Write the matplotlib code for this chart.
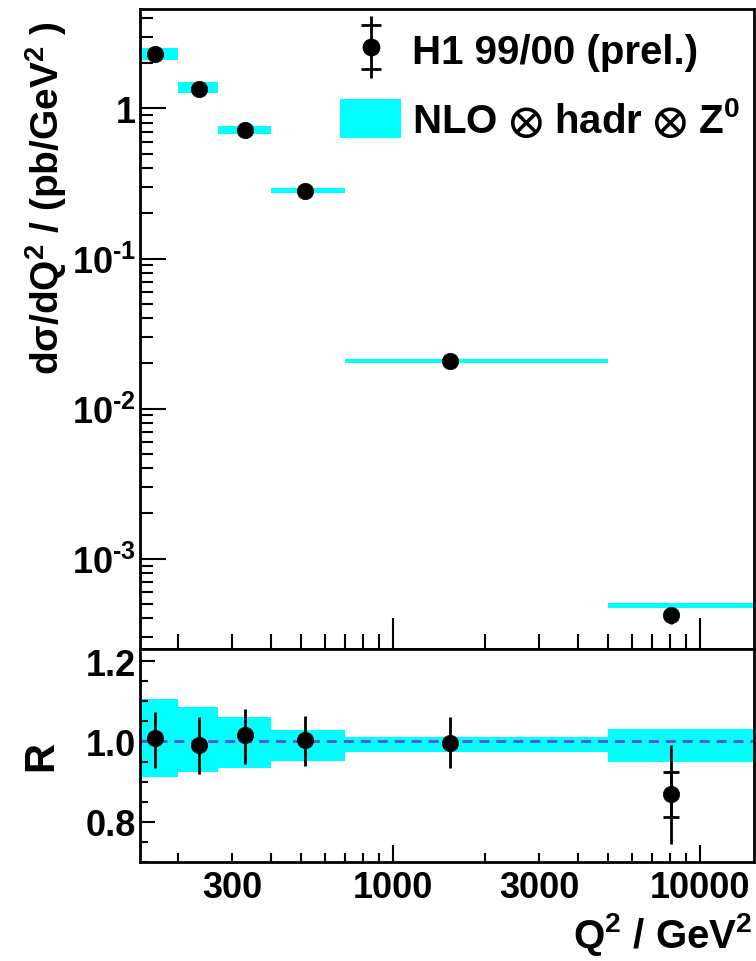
import numpy as np
import matplotlib
matplotlib.use('Agg')
import matplotlib.pyplot as plt
from matplotlib.lines import Line2D
from matplotlib.patches import Patch
from matplotlib.path import Path
from matplotlib.legend_handler import HandlerTuple
from matplotlib.ticker import FixedLocator, FuncFormatter, NullFormatter

plt.rcParams['font.family'] = ['Liberation Sans', 'DejaVu Sans']
plt.rcParams['font.weight'] = 'bold'
plt.rcParams['mathtext.fontset'] = 'custom'
plt.rcParams['mathtext.rm'] = 'Liberation Sans:bold'
plt.rcParams['mathtext.bf'] = 'Liberation Sans:bold'
plt.rcParams['mathtext.it'] = 'Liberation Sans:bold:italic'
plt.rcParams['mathtext.sf'] = 'Liberation Sans:bold'
plt.rcParams['mathtext.default'] = 'rm'
plt.rcParams['mathtext.fallback'] = 'stixsans'

# ---------------- data ----------------
bin_lo = [150, 200, 270, 400, 700, 5000]
bin_hi = [200, 270, 400, 700, 5000, 15000]
q2_center = [168, 234, 330, 519, 1530, 8020]

xs_data = [2.29, 1.34, 0.717, 0.283, 0.0206, 4.19e-4]
xs_err = [0.155, 0.097, 0.048, 0.0175, 0.0013, 5.0e-5]
nlo_lo = [2.10, 1.26, 0.674, 0.272, 0.0202, 4.72e-4]
nlo_hi = [2.51, 1.49, 0.762, 0.294, 0.0213, 5.09e-4]

ratio = [1.0075, 0.992, 1.015, 1.003, 0.997, 0.868]
ratio_err_up = [0.0645, 0.069, 0.066, 0.061, 0.065, 0.124]
ratio_err_dn = [0.0725, 0.074, 0.071, 0.064, 0.064, 0.123]
ratio_stat = [np.nan, np.nan, np.nan, np.nan, np.nan, 0.055]
band_lo = [0.912, 0.923, 0.934, 0.952, 0.974, 0.948]
band_hi = [1.106, 1.085, 1.060, 1.028, 1.011, 1.031]

x_minor = [200, 300, 400, 500, 600, 700, 800, 900,
           2000, 3000, 4000, 5000, 6000, 7000, 8000, 9000]
x_major = [1000, 10000]
x_labels = {300: '300', 1000: '1000', 3000: '3000', 10000: '10000'}
y_major_top = [1e-3, 1e-2, 1e-1, 1]
y_labels_top = ['10$^{\u2010 3}$', '10$^{\u2010 2}$', '10$^{\u2010 1}$', '1']
r_major = [0.8, 1.0, 1.2]
r_labels = ['0.8', '1.0', '1.2']
r_minor = [0.7, 0.75, 0.85, 0.9, 0.95, 1.05, 1.1, 1.15, 1.25]

CYAN = '#00ffff'
W, H = 756, 962
fig = plt.figure(figsize=(W / 100, H / 100), dpi=100)

def fx(px):
    return px / W

def fy(py):
    return 1 - py / H

L, R_, T, M, B = 140, 754, 10, 650, 863
ax1 = fig.add_axes([fx(L), fy(M), fx(R_) - fx(L), fy(T) - fy(M)])
ax2 = fig.add_axes([fx(L), fy(B), fx(R_) - fx(L), fy(M) - fy(B)])

for ax in (ax1, ax2):
    ax.set_xscale('log')
    ax.set_xlim(150, 15000)
    for s in ax.spines.values():
        s.set_linewidth(2.0)

# ---------------- top panel ----------------
ax1.set_yscale('log')
ax1.set_ylim(2.5e-4, 4.6)
widths = [h - l for l, h in zip(bin_lo, bin_hi)]
ax1.bar(bin_lo, [h - l for l, h in zip(nlo_lo, nlo_hi)], bottom=nlo_lo,
        width=widths, align='edge', color=CYAN, linewidth=0, zorder=1)
ax1.errorbar(q2_center, xs_data, yerr=xs_err, fmt='o', color='black',
             ms=11.8, mew=0.5, elinewidth=2.0, capsize=0, zorder=3)

ax1.xaxis.set_major_locator(FixedLocator(x_major))
ax1.xaxis.set_minor_locator(FixedLocator(x_minor))
ax1.xaxis.set_major_formatter(NullFormatter())
ax1.xaxis.set_minor_formatter(NullFormatter())
ax1.yaxis.set_major_locator(FixedLocator(y_major_top))
ax1.set_yticklabels(y_labels_top)
ax1.yaxis.set_minor_locator(FixedLocator(
    [m * 10.0 ** e for e in range(-4, 1) for m in range(2, 10)]))
ax1.yaxis.set_minor_formatter(NullFormatter())
ax1.tick_params(axis='x', which='major', direction='in', length=22, width=1.5,
                top=False, bottom=True)
ax1.tick_params(axis='x', which='minor', direction='in', length=10.8, width=1.5,
                top=False, bottom=True)
ax1.tick_params(axis='y', which='major', direction='in', length=18.7, width=1.5,
                right=False, labelsize=26, pad=3)
ax1.tick_params(axis='y', which='minor', direction='in', length=9.4, width=1.5,
                right=False)

# legend
bar_verts = [(0, -31), (0, 31), (-10.5, 22.5), (10.5, 22.5),
             (-10.5, -22.5), (10.5, -22.5)]
bar_codes = [Path.MOVETO, Path.LINETO] * 3
bar_path = Path(bar_verts, bar_codes)
h_bars = Line2D([], [], marker=bar_path, ms=44.6, mew=2.0, mfc='none',
                mec='black', ls='none')
h_dot = Line2D([], [], marker='o', ms=11.8, color='black', ls='none')
h_box = Patch(facecolor=CYAN, edgecolor='none')
ax1.legend([(h_bars, h_dot), h_box],
           ['H1 99/00 (prel.)', r'NLO $\otimes$ hadr $\otimes$ Z$^{0}$'],
           handler_map={tuple: HandlerTuple(ndivide=1, pad=0)},
           loc='upper left', bbox_to_anchor=((340 - L) / (R_ - L), 0.967),
           frameon=False, fontsize=29, borderpad=0, borderaxespad=0,
           handlelength=1.52, handleheight=1.12, handletextpad=0.27,
           labelspacing=0.62)

# ---------------- bottom panel ----------------
ax2.set_ylim(0.7, 1.23)
ax2.bar(bin_lo, [h - l for l, h in zip(band_lo, band_hi)], bottom=band_lo,
        width=widths, align='edge', color=CYAN, linewidth=0, zorder=1)
ax2.axhline(1.0, color='#5b4fd6', lw=2.0, ls=(0, (3.6, 2.5)), zorder=2)
ax2.errorbar(q2_center, ratio, yerr=[ratio_err_dn, ratio_err_up], fmt='none',
             ecolor='black', elinewidth=2.0, capsize=0, zorder=3)
stat_x = [x for x, s in zip(q2_center, ratio_stat) if not np.isnan(s)]
stat_y = [r for r, s in zip(ratio, ratio_stat) if not np.isnan(s)]
stat_e = [s for s in ratio_stat if not np.isnan(s)]
ax2.errorbar(stat_x, stat_y, yerr=stat_e, fmt='none', ecolor='black',
             elinewidth=2.0, capsize=6.1, capthick=2.0, zorder=3)
ax2.plot(q2_center, ratio, 'o', color='black', ms=11.8, mew=0.5, zorder=4)

ax2.xaxis.set_major_locator(FixedLocator(x_major))
ax2.xaxis.set_minor_locator(FixedLocator(x_minor))
lab = lambda v, p: x_labels.get(int(round(v)), '')
ax2.xaxis.set_major_formatter(FuncFormatter(lab))
ax2.xaxis.set_minor_formatter(FuncFormatter(lab))
ax2.yaxis.set_major_locator(FixedLocator(r_major))
ax2.set_yticklabels(r_labels)
ax2.yaxis.set_minor_locator(FixedLocator(r_minor))
ax2.tick_params(axis='x', which='major', direction='in', length=12.2, width=1.5,
                top=False, labelsize=26, pad=6)
ax2.tick_params(axis='x', which='minor', direction='in', length=6.5, width=1.5,
                top=False, labelsize=26, pad=6)
ax2.tick_params(axis='y', which='major', direction='in', length=10.8, width=1.5,
                right=False, labelsize=26, pad=3)
ax2.tick_params(axis='y', which='minor', direction='in', length=5.8, width=1.5,
                right=False)

# ---------------- titles ----------------
fig.text(fx(46), fy(22), r'd$\sigma$/dQ$^{2}$ / (pb/GeV$^{2}$ )', rotation=90,
         ha='center', va='top', fontsize=28)
fig.text(fx(41), fy(756), 'R', rotation=90, ha='center', va='center',
         fontsize=30)
fig.text(fx(753), fy(948), r'Q$^{2}$ / GeV$^{2}$', ha='right', va='baseline',
         fontsize=29)

fig.savefig('out.png', dpi=100)
